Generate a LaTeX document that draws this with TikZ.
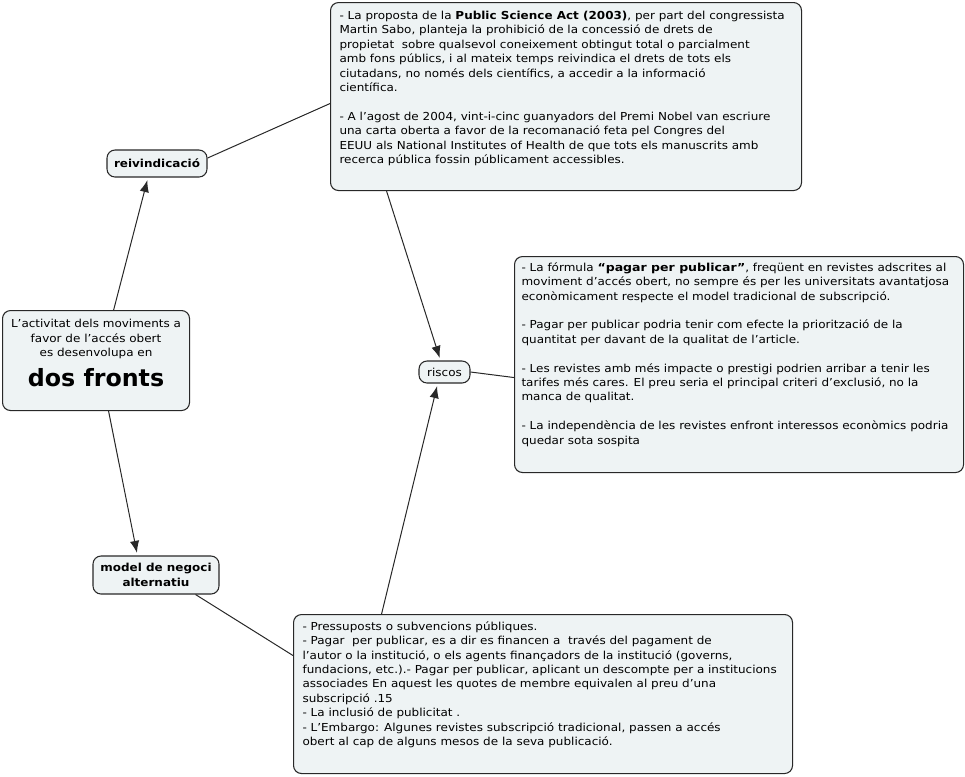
\documentclass[tikz,border=0pt]{standalone}
\usepackage{fontspec}
\setmainfont{DejaVu Sans}[FakeStretch=1.09]
\newfontfamily\titlefont{DejaVu Sans}
\newfontfamily\boldwider{DejaVu Sans}[FakeStretch=1.14]
\usetikzlibrary{
  arrows.meta
}
\definecolor{paleblue}{RGB}{238,243,244}
\definecolor{edgegray}{RGB}{40,40,40}
\newcommand{\toptext}[3]{\parbox[c][#2][t]{#1}{\raggedright #3}}

\begin{document}
\begin{tikzpicture}[
  x=0.75pt,
  y=-0.75pt,
  concept/.style={
    draw=edgegray,
    rounded corners=6pt,
    fill=paleblue,
    line width=0.8pt,
    font=\fontsize{8.25}{10.8}\selectfont,
  },
  note/.style={
    concept,
    anchor=north west,
    inner xsep=6.75pt,
    inner ysep=6.5pt,
  },
  label/.style={
    concept,
    inner sep=2pt,
    font=\fontsize{8.25}{10.8}\selectfont\bfseries,
  },
  link/.style={
    draw=edgegray,
    line width=0.75pt,
  },
  >={Latex[length=9pt,width=7pt]}
]

\useasboundingbox (0,0) rectangle (965,776);

% Central concept
\node[concept, anchor=north west, inner xsep=0pt, inner ysep=6.75pt] (fronts) at (2,310) {%
  \parbox[c][61.5pt][t]{140.25pt}{\centering
    L’activitat dels moviments a\\
    favor de l’accés obert\\
    es desenvolupa en\par
    {\titlefont\fontsize{17.8}{22.5}\selectfont\bfseries dos fronts\par}}};

% Linking concepts
\node[label, minimum width=75pt, minimum height=20.25pt] (claim) at (157,163.5) {reivindicació};
\node[concept, inner sep=2pt, minimum width=38.25pt, minimum height=16.5pt] (riscos) at (444.5,372) {riscos};
\node[label, align=center, minimum width=94.5pt, minimum height=28.5pt] (model) at (156,575) {model de negoci\\alternatiu};

% Text boxes
\node[note] (proposal) at (330,2) {\toptext{339.75pt}{128pt}{%
  - La proposta de la \textbf{Public Science Act (2003)}, per part del congressista\\
  Martin Sabo, planteja la prohibició de la concessió de drets de\\
  propietat~ sobre qualsevol coneixement obtingut total o parcialment\\
  amb fons públics, i al mateix temps reivindica el drets de tots els\\
  ciutadans, no només dels científics, a accedir a la informació\\
  científica.\\[10.8pt]
  - A l’agost de 2004, vint-i-cinc guanyadors del Premi Nobel van escriure\\
  una carta oberta a favor de la recomanació feta pel Congres del\\
  EEUU als National Institutes of Health de que tots els manuscrits amb\\
  recerca pública fossin públicament accessibles.}};

\node[note, inner xsep=5.25pt, inner ysep=4.5pt] (risktext) at (514,256) {\toptext{326.25pt}{153pt}{%
  - La fórmula {\boldwider\bfseries “pagar per publicar”}, freqüent en revistes adscrites al\\
  moviment d’accés obert, no sempre és per les universitats avantatjosa\\
  econòmicament respecte el model tradicional de subscripció.\\[10.8pt]
  - Pagar per publicar podria tenir com efecte la priorització de la\\
  quantitat per davant de la qualitat de l’article.\\[10.8pt]
  - Les revistes amb més impacte o prestigi podrien arribar a tenir les\\
  tarifes més cares. El preu seria el principal criteri d’exclusió, no la\\
  manca de qualitat.\\[10.8pt]
  - La independència de les revistes enfront interessos econòmics podria\\
  quedar sota sospita}};

\node[note, inner ysep=5.25pt] (modeltext) at (293,614) {\toptext{360.75pt}{108.75pt}{%
  - Pressuposts o subvencions públiques.\\
  - Pagar~ per publicar, es a dir es financen a~ través del pagament de\\
  l’autor o la institució, o els agents finançadors de la institució (governs,\\
  fundacions, etc.).- Pagar per publicar, aplicant un descompte per a institucions\\
  associades En aquest les quotes de membre equivalen al preu d’una\\
  subscripció .15\\
  - La inclusió de publicitat .\\
  - L’Embargo: Algunes revistes subscripció tradicional, passen a accés\\
  obert al cap de alguns mesos de la seva publicació.}};

% Connectors
\draw[link,->,shorten >=2pt] ([xshift=13.2pt]fronts.north) -- ([xshift=-6.75pt]claim.south);
\draw[link] ([yshift=4.1pt]claim.east) -- ([yshift=-5.25pt]proposal.west);
\draw[link,->,shorten >=2pt] ([xshift=-134.6pt]proposal.south) -- ([xshift=-3pt]riscos.north);
\draw[link] (riscos.east) -- ([yshift=-9.75pt]risktext.west);
\draw[link,->,shorten >=2pt] ([xshift=9.4pt]fronts.south) -- ([xshift=-13.9pt]model.north);
\draw[link] ([xshift=-18pt]model.south east) -- ([yshift=28.9pt]modeltext.west);
\draw[link,->,shorten >=2pt] ([xshift=-121.1pt]modeltext.north) -- ([xshift=-5.1pt]riscos.south);

\end{tikzpicture}
\end{document}
